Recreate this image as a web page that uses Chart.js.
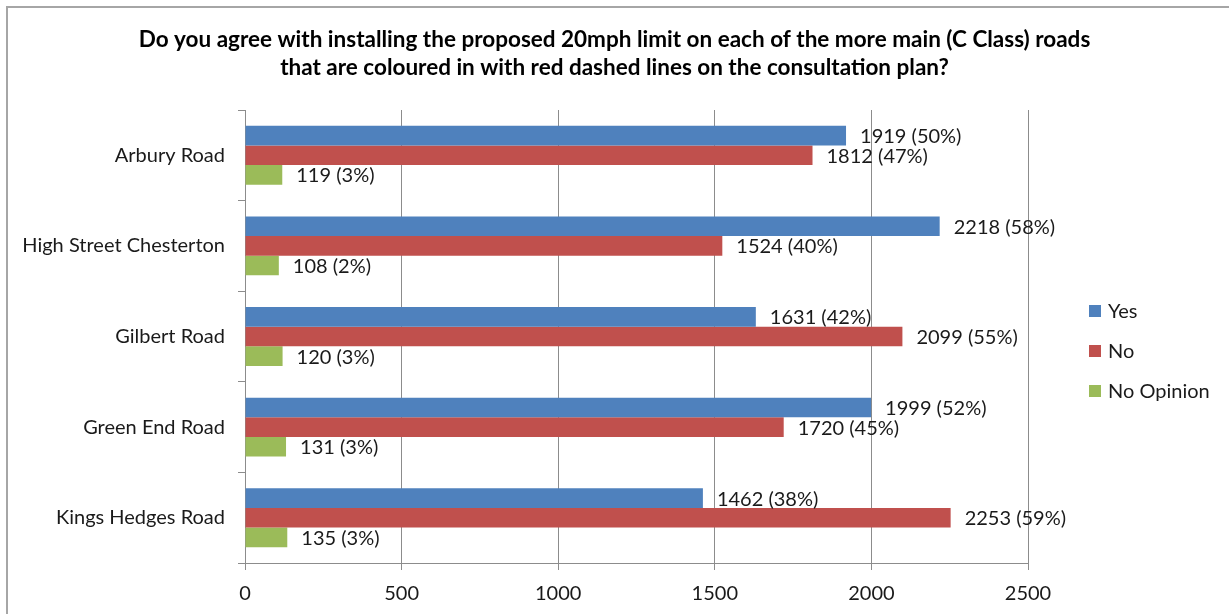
<!DOCTYPE html>
<html>
<head>
<meta charset="utf-8">
<script src="https://cdn.jsdelivr.net/npm/chart.js@4.4.0/dist/chart.umd.min.js"></script>
<style>
  html, body { margin: 0; padding: 0; background: #fff; overflow: hidden; }
  #frame { position: absolute; left: 6px; top: 6px; width: 1260px; height: 640px; border: 2px solid #a6a6a6; }
  #chart { position: absolute; left: 0; top: 0; }
</style>
</head>
<body>
<div id="frame"></div>
<canvas id="chart" width="1229" height="614"></canvas>
<script>
const roads = ["Arbury Road", "High Street Chesterton", "Gilbert Road", "Green End Road", "Kings Hedges Road"];
const yesVotes = [1919, 2218, 1631, 1999, 1462];
const noVotes = [1812, 1524, 2099, 1720, 2253];
const noOpinionVotes = [119, 108, 120, 131, 135];
const yesPct = [50, 58, 42, 52, 38];
const noPct = [47, 40, 55, 45, 59];
const noOpinionPct = [3, 2, 3, 3, 3];
const xTicks = [0, 500, 1000, 1500, 2000, 2500];

const titleLines = [
  "Do you agree with installing the proposed 20mph limit on each of the more main (C Class) roads",
  "that are coloured in with red dashed lines on the consultation plan?"
];

const FONT = "Lato, 'Open Sans', sans-serif";
const GRID = "#8c8c8c";

// title, legend and value labels drawn by hand
const extras = {
  id: "extras",
  afterDatasetsDraw(chart) {
    const ctx = chart.ctx;
    ctx.save();
    ctx.fillStyle = "#1a1a1a";
    ctx.textBaseline = "middle";
    ctx.font = "20px " + FONT;
    const pcts = [yesPct, noPct, noOpinionPct];
    chart.data.datasets.forEach((ds, i) => {
      chart.getDatasetMeta(i).data.forEach((bar, j) => {
        ctx.textAlign = "left";
        ctx.fillText(ds.data[j] + " (" + pcts[i][j] + "%)", bar.x + 14, bar.y + 1);
      });
    });
    // title
    ctx.font = "bold 22.5px " + FONT;
    ctx.textAlign = "center";
    ctx.textBaseline = "alphabetic";
    ctx.fillStyle = "#000";
    ctx.fillText(titleLines[0], chart.width / 2, 47);
    ctx.fillText(titleLines[1], chart.width / 2, 75);
    // legend
    ctx.font = "20px " + FONT;
    ctx.textAlign = "left";
    ctx.textBaseline = "middle";
    chart.data.datasets.forEach((ds, i) => {
      const y = 311 + i * 40;
      ctx.fillStyle = ds.backgroundColor;
      ctx.fillRect(1089, y - 6, 12, 12);
      ctx.fillStyle = "#1a1a1a";
      ctx.fillText(ds.label, 1108, y + 1);
    });
    ctx.restore();
  }
};

new Chart(document.getElementById("chart"), {
  type: "bar",
  data: {
    labels: roads,
    datasets: [
      { label: "Yes", data: yesVotes, backgroundColor: "#4F81BD" },
      { label: "No", data: noVotes, backgroundColor: "#C0504D" },
      { label: "No Opinion", data: noOpinionVotes, backgroundColor: "#9BBB59" }
    ]
  },
  options: {
    indexAxis: "y",
    responsive: false,
    animation: false,
    layout: { padding: { left: 0, top: 110, right: 201, bottom: 0 } },
    datasets: { bar: { categoryPercentage: 0.65, barPercentage: 1.0, borderWidth: 0 } },
    plugins: { legend: { display: false }, title: { display: false }, tooltip: { enabled: false } },
    scales: {
      x: {
        min: 0, max: 2500,
        afterBuildTicks: (s) => { s.ticks = xTicks.map(v => ({ value: v })); },
        afterFit: (s) => { s.height = 51; },
        grid: { color: GRID, lineWidth: 1, tickLength: 7, drawTicks: true },
        border: { color: GRID, width: 1 },
        ticks: {
          color: "#1a1a1a", font: { family: FONT, size: 20 }, padding: 12,
          callback: (v) => String(v)
        }
      },
      y: {
        afterFit: (s) => { s.width = 245; },
        grid: { drawOnChartArea: false, tickLength: 7, color: GRID, offset: true },
        border: { color: GRID, width: 1 },
        ticks: { color: "#1a1a1a", font: { family: FONT, size: 20 }, padding: 13 }
      }
    }
  },
  plugins: [extras]
});
</script>
</body>
</html>
